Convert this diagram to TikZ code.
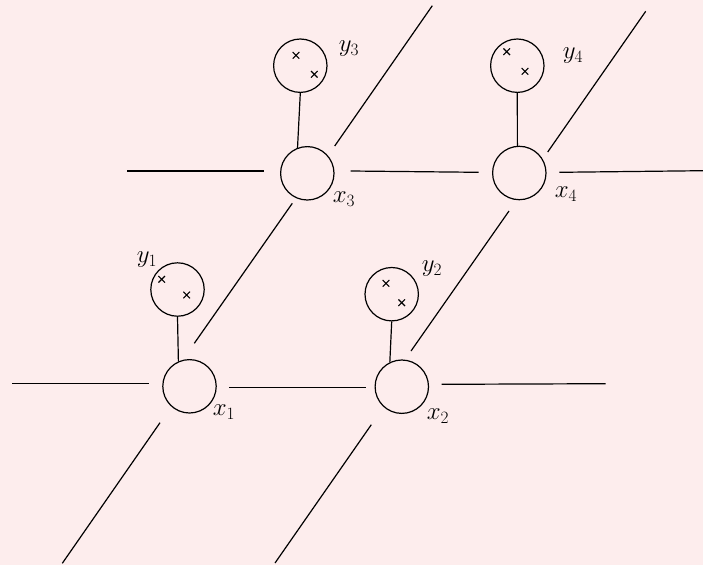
\documentclass[tikz,border=0pt]{standalone}
\usepackage{tikz}
\definecolor{bgpink}{RGB}{253,237,237}
\begin{document}
\begin{tikzpicture}[x=1pt,y=-1pt,
  vnode/.style={draw,circle,line width=1.2pt,minimum size=53.4pt,inner sep=0pt},
  edge/.style={line width=1.2pt},
  lbl/.style={font=\fontsize{24}{28}\selectfont,inner sep=0pt},
  xm/.pic={\draw[line width=1.1pt] (-3.3,-3.3)--(3.3,3.3) (-3.3,3.3)--(3.3,-3.3);}]
\fill[bgpink] (0,0) rectangle (703,565);
\useasboundingbox (0,0) rectangle (703,565);
% hidden nodes
\node[vnode] (x1) at (189.5,386.3) {};
\node[vnode] (x2) at (401.8,386.7) {};
\node[vnode] (x3) at (307.3,173.3) {};
\node[vnode] (x4) at (519.3,173) {};
% observed nodes
\node[vnode] (y1) at (177.5,289.5) {};
\node[vnode] (y2) at (391.7,294.2) {};
\node[vnode] (y3) at (300.3,65.7) {};
\node[vnode] (y4) at (517.3,65.7) {};
% crosses
\pic at (161.7,279.3) {xm};
\pic at (186.7,295) {xm};
\pic at (386,283.3) {xm};
\pic at (401.7,302.7) {xm};
\pic at (296,55.3) {xm};
\pic at (314.3,74.3) {xm};
\pic at (506.7,51.7) {xm};
\pic at (525,71.3) {xm};
% labels
\node[lbl] (ly1) at (147,260) {$y_1$};
\node[lbl] (ly2) at (432,269) {$y_2$};
\node[lbl] (ly3) at (349,49) {$y_3$};
\node[lbl] (ly4) at (573,56) {$y_4$};
\node[lbl] (lx1) at (224,412) {$x_1$};
\node[lbl] (lx2) at (438,416) {$x_2$};
\node[lbl] (lx3) at (344,199) {$x_3$};
\node[lbl] (lx4) at (566,194) {$x_4$};
% observation edges
\draw[edge] (y1.south) -- (x1.114);
\draw[edge] (y2.south) -- (x2.116);
\draw[edge] (y3.south) -- (x3.111);
\draw[edge] (y4.south) -- (x4.94);
% lattice line end points
\coordinate (h1a) at (12.3,383.3);  \coordinate (h1b) at (149,383.3);
\coordinate (h2a) at (229,387.3);   \coordinate (h2b) at (365.7,387.3);
\coordinate (h3a) at (441.7,384.3); \coordinate (h3b) at (605.7,383.7);
\coordinate (h4a) at (127.3,171);   \coordinate (h4b) at (264.3,171);
\coordinate (h5a) at (350.7,171);   \coordinate (h5b) at (478.7,172.3);
\coordinate (h6a) at (559.3,172.3); \coordinate (h6b) at (703,170.7);
\coordinate (d1a) at (160,422.7);   \coordinate (d1b) at (62.3,563.3);
\coordinate (d2a) at (371.3,424.7); \coordinate (d2b) at (275,563);
\coordinate (d3a) at (194.3,343.3); \coordinate (d3b) at (292.3,203.3);
\coordinate (d4a) at (411,351);     \coordinate (d4b) at (509,211);
\coordinate (d5a) at (334.7,146);   \coordinate (d5b) at (432.3,5.7);
\coordinate (d6a) at (547.7,152);   \coordinate (d6b) at (645.7,11.3);
\foreach \p in {h1,h2,h3,h4,h5,h6,d1,d2,d3,d4,d5,d6}
  \draw[edge] (\p a) -- (\p b);
\end{tikzpicture}
\end{document}
